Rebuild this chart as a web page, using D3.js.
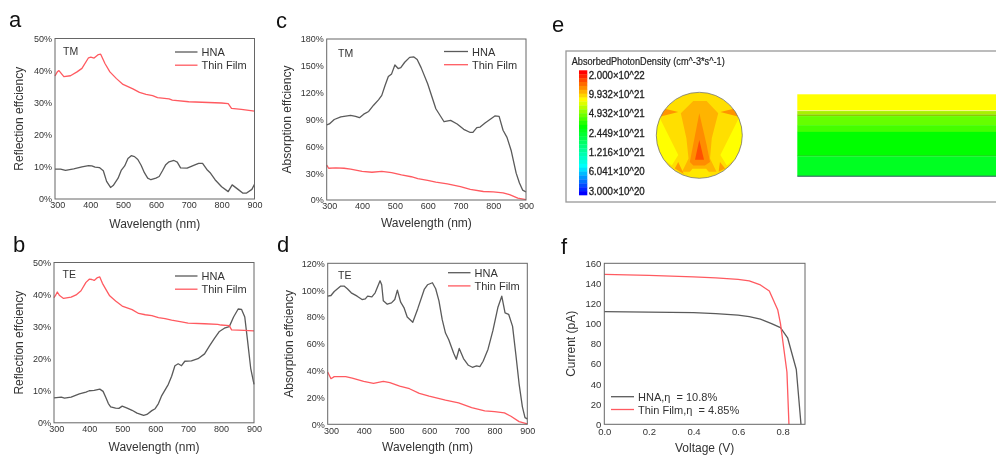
<!DOCTYPE html>
<html>
<head>
<meta charset="utf-8">
<script src="https://cdn.jsdelivr.net/npm/d3@7"></script>
<style>
  html, body { margin: 0; padding: 0; background: #fff; }
  svg { display: block; filter: blur(0.4px); }
  text { font-family: "Liberation Sans", Arial, sans-serif; fill: #333; white-space: pre; }
</style>
</head>
<body>
<div id="chart"></div>
<script>
// values, [x, y]
const aHna = [[293,9.3],[310,9.3],[325,8.9],[350,9.4],[375,10],[395,10.4],[405,10.3],[415,9.9],[428,9.8],[440,8.8],[450,5.5],[462,3.6],[470,4.2],[485,6.5],[495,9],[505,10.3],[515,12.6],[525,13.5],[535,13.2],[545,12.3],[555,10.5],[565,8.2],[575,6.5],[585,6],[600,6.5],[610,7],[620,8.8],[630,10.7],[640,11.6],[655,12],[665,11.5],[675,9.7],[695,9.6],[715,10.5],[730,11.1],[742,11.1],[755,9.2],[765,8.2],[780,6],[800,3.8],[820,2.3],[832,4.4],[850,3],[865,1.8],[875,1.8],[892,3],[900,4.6]];
const aThin = [[293,38.3],[300,39.6],[305,40],[320,38.1],[340,38.4],[360,39.6],[375,40.7],[395,44],[402,44.2],[412,43.9],[425,45],[432,45.1],[445,42.2],[460,39.6],[480,37.5],[500,35.7],[530,34.3],[550,33.2],[570,32.6],[590,32.2],[605,31.6],[640,31.2],[650,30.8],[700,30.3],[800,29.9],[820,29.7],[830,28.2],[860,27.9],[900,27.4]];
const bHna = [[293,7.8],[315,8],[325,7.7],[345,8],[370,9],[390,9.6],[400,10],[415,10.1],[432,10.5],[442,9.8],[450,8],[458,6],[465,5],[480,4.6],[490,4.5],[500,5.2],[515,4.6],[530,3.9],[545,3],[565,2.3],[575,2.6],[590,3.8],[600,4.4],[610,6],[620,8.5],[640,12],[650,14.5],[660,17.8],[670,18.4],[680,17.8],[690,19.2],[710,19.3],[730,20],[750,21.5],[765,24],[780,26.3],[795,28.5],[810,29.5],[825,30],[838,33],[852,35.5],[862,35.4],[872,33],[880,26],[890,17],[900,12]];
const bThin = [[293,39],[298,39.8],[303,40.8],[310,39.7],[322,38.8],[345,39.2],[360,39.9],[375,41.2],[390,43.8],[400,44.8],[408,44.7],[415,44.4],[425,45.3],[432,45.5],[440,43.5],[450,41.7],[462,39.6],[480,38],[500,36.4],[530,35.3],[550,34.1],[570,33.7],[590,33.4],[610,32.8],[630,32.5],[650,32],[680,31.5],[700,31.1],[750,30.9],[790,30.7],[800,30.5],[825,30.3],[832,29],[870,28.8],[900,28.7]];
const cHna = [[292,84],[300,85],[315,90],[335,93],[365,94.5],[380,93.5],[392,92],[405,96],[420,99],[435,106],[450,112],[460,117],[470,128],[480,138],[490,141],[500,151],[510,147],[518,148],[530,154],[545,159.5],[558,160],[568,157],[580,148],[600,130],[625,102],[650,87.5],[670,89],[690,85],[710,79],[730,75.5],[738,75.5],[750,81],[760,81.5],[775,86],[790,90],[805,94],[818,93.5],[830,78],[842,70],[855,55],[870,30],[880,19],[890,11],[900,9]];
const cThin = [[292,39],[298,35.5],[320,36],[345,35.5],[365,34.5],[400,32],[430,31],[460,32],[490,30.5],[520,28],[550,26],[570,24],[600,22],[625,20],[660,18],[700,15],[730,12],[770,9.5],[800,9],[830,8],[850,6],[875,2],[900,0.3]];
const dHna = [[290,95.5],[300,96],[310,99],[330,103],[340,103],[350,101],[362,98],[380,95.5],[395,93],[405,93.5],[412,95.5],[425,95],[435,98],[450,107],[455,104],[460,92],[472,89.5],[485,90.5],[495,93],[503,100],[513,91],[523,87],[533,80],[550,76],[565,86],[585,100.5],[595,104],[610,105.5],[620,101],[630,92],[640,78],[650,68],[660,63],[675,53],[683,48.5],[692,56.5],[705,49],[720,44],[732,42.5],[745,43.5],[755,43],[765,47],[780,56],[795,70],[810,87],[822,95.5],[832,83],[843,82],[855,73],[865,52],[875,30],[885,13],[893,5],[900,4]];
const dThin = [[290,39],[300,34],[310,35.5],[345,35.5],[365,34.5],[400,32],[430,30.5],[460,32],[480,31],[510,28.5],[540,26.5],[570,23],[600,21],[650,18],[690,16],[730,12.5],[770,10],[800,9.5],[830,8.5],[850,6],[875,2],[900,0.3]];
const fHna = [[0,112],[0.2,111.5],[0.4,111],[0.5,110],[0.6,108.5],[0.65,107],[0.7,104.5],[0.75,100],[0.79,96],[0.822,86],[0.861,54.5],[0.882,0]];
const fThin = [[0,149],[0.2,148],[0.4,146.5],[0.5,145.5],[0.6,144],[0.65,142.5],[0.7,138.5],[0.74,132.5],[0.778,113.5],[0.79,100],[0.819,52],[0.828,0]];

const wavelengthTicks = [300, 400, 500, 600, 700, 800, 900];
const voltageTicks = [0, 0.2, 0.4, 0.6, 0.8];
const reflectTicks = [0, 10, 20, 30, 40, 50];
const absorbTicksC = [0, 30, 60, 90, 120, 150, 180];
const absorbTicksD = [0, 20, 40, 60, 80, 100, 120];
const currentTicks = [0, 20, 40, 60, 80, 100, 120, 140, 160];

const colorbarLabels = ["2.000×10^22", "9.932×10^21", "4.932×10^21", "2.449×10^21", "1.216×10^21", "6.041×10^20", "3.000×10^20"];

const HNA_COLOR = "#5a5a5a", THIN_COLOR = "#ff5a60", FRAME = "#666";

const svg = d3.select("#chart").append("svg").attr("width", 996).attr("height", 455);

const percent = d => d + "%";

function drawPanel(p) {
  const x = d3.scaleLinear().domain(p.xDomain).range([p.left, p.right]);
  const y = d3.scaleLinear().domain(p.yDomain).range([p.bottom, p.top]);
  const g = svg.append("g");

  const xAxis = d3.axisBottom(x).tickValues(p.xTicks).tickFormat(p.xFormat).tickSize(0).tickPadding(p.xPad || 3);
  const yAxis = d3.axisLeft(y).tickValues(p.yTicks).tickFormat(p.yFormat).tickSize(0).tickPadding(3);
  g.append("g").attr("transform", "translate(0," + p.bottom + ")").call(xAxis)
    .call(s => s.select(".domain").remove());
  g.append("g").attr("transform", "translate(" + p.left + ",0)").call(yAxis)
    .call(s => s.select(".domain").remove());
  g.selectAll(".tick text").style("font-family", '"Liberation Sans", Arial, sans-serif')
    .style("font-size", p.tickSize + "px").style("fill", "#333");

  const line = d3.line().x(d => x(d[0])).y(d => y(d[1]));
  p.series.forEach(s => {
    g.append("path").datum(s.values).attr("d", line)
      .attr("fill", "none").attr("stroke", s.color).attr("stroke-width", 1.3)
      .attr("stroke-linejoin", "round");
  });

  g.append("rect").attr("x", p.left).attr("y", p.top)
    .attr("width", p.right - p.left).attr("height", p.bottom - p.top)
    .attr("fill", "none").attr("stroke", FRAME).attr("stroke-width", 1);

  // legend
  p.series.forEach((s, i) => {
    const ly = p.legend.y + i * p.legend.step;
    g.append("line").attr("x1", p.legend.x1).attr("x2", p.legend.x2).attr("y1", ly).attr("y2", ly)
      .attr("stroke", s.color).attr("stroke-width", 1.3);
    g.append("text").attr("x", p.legend.x2 + 4).attr("y", ly + 4)
      .attr("font-size", 11).text(s.name);
  });

  if (p.mode) {
    g.append("text").attr("x", p.mode.x).attr("y", p.mode.y).attr("font-size", 10.5).text(p.mode.text);
  }

  g.append("text").attr("x", (p.left + p.right) / 2).attr("y", p.xTitleY)
    .attr("text-anchor", "middle").attr("font-size", 12).text(p.xTitle);
  g.append("text").attr("transform", "translate(" + p.yTitleX + "," + (p.top + p.bottom) / 2 + ") rotate(-90)")
    .attr("text-anchor", "middle").attr("font-size", 12).text(p.yTitle);

  svg.append("text").attr("x", p.letter.x).attr("y", p.letter.y)
    .attr("font-size", 22).style("fill", "#111").text(p.letter.text);
}

const wlTitle = "Wavelength (nm)";

drawPanel({
  left: 55, right: 254.5, top: 38.5, bottom: 199,
  xDomain: [293, 900], yDomain: [0, 50], xTicks: wavelengthTicks, yTicks: reflectTicks,
  xFormat: d3.format("d"), yFormat: percent, tickSize: 9,
  series: [{ name: "HNA", color: HNA_COLOR, values: aHna }, { name: "Thin Film", color: THIN_COLOR, values: aThin }],
  legend: { x1: 175, x2: 197.5, y: 52, step: 13.2 },
  mode: { x: 63, y: 55, text: "TM" },
  xTitle: wlTitle, xTitleY: 228, yTitle: "Reflection effciency", yTitleX: 23,
  letter: { x: 9, y: 27, text: "a" }
});
drawPanel({
  left: 54, right: 254, top: 262.5, bottom: 422.8,
  xDomain: [293, 900], yDomain: [0, 50], xTicks: wavelengthTicks, yTicks: reflectTicks,
  xFormat: d3.format("d"), yFormat: percent, tickSize: 9,
  series: [{ name: "HNA", color: HNA_COLOR, values: bHna }, { name: "Thin Film", color: THIN_COLOR, values: bThin }],
  legend: { x1: 175, x2: 197.5, y: 276, step: 13.2 },
  mode: { x: 62.5, y: 278, text: "TE" },
  xTitle: wlTitle, xTitleY: 451, yTitle: "Reflection effciency", yTitleX: 23,
  letter: { x: 13, y: 252, text: "b" }
});
drawPanel({
  left: 326.7, right: 526, top: 39, bottom: 200,
  xDomain: [292, 900], yDomain: [0, 180], xTicks: wavelengthTicks, yTicks: absorbTicksC,
  xFormat: d3.format("d"), yFormat: percent, tickSize: 9,
  series: [{ name: "HNA", color: HNA_COLOR, values: cHna }, { name: "Thin Film", color: THIN_COLOR, values: cThin }],
  legend: { x1: 444, x2: 468, y: 51.5, step: 13.2 },
  mode: { x: 338, y: 57, text: "TM" },
  xTitle: wlTitle, xTitleY: 227, yTitle: "Absorption effciency", yTitleX: 291,
  letter: { x: 276, y: 28, text: "c" }
});
drawPanel({
  left: 327.7, right: 527.3, top: 263.3, bottom: 424.3,
  xDomain: [290, 900], yDomain: [0, 120], xTicks: wavelengthTicks, yTicks: absorbTicksD,
  xFormat: d3.format("d"), yFormat: percent, tickSize: 9,
  series: [{ name: "HNA", color: HNA_COLOR, values: dHna }, { name: "Thin Film", color: THIN_COLOR, values: dThin }],
  legend: { x1: 448, x2: 470.5, y: 272.7, step: 13.2 },
  mode: { x: 338, y: 279, text: "TE" },
  xTitle: wlTitle, xTitleY: 451, yTitle: "Absorption effciency", yTitleX: 293,
  letter: { x: 277, y: 252, text: "d" }
});
drawPanel({
  left: 604.3, right: 805, top: 263.3, bottom: 424.3,
  xDomain: [0, 0.9], yDomain: [0, 160], xTicks: voltageTicks, yTicks: currentTicks,
  xFormat: d3.format(".1f"), yFormat: d3.format("d"), tickSize: 9.5, xPad: 4,
  series: [{ name: "HNA,η  = 10.8%", color: HNA_COLOR, values: fHna }, { name: "Thin Film,η  = 4.85%", color: THIN_COLOR, values: fThin }],
  legend: { x1: 611, x2: 634, y: 396.7, step: 12.8 },
  xTitle: "Voltage (V)", xTitleY: 451.5, yTitle: "Current (pA)", yTitleX: 575,
  letter: { x: 561, y: 254, text: "f" }
});

// panel e: simulation snapshot
svg.append("text").attr("x", 552).attr("y", 32).attr("font-size", 22).style("fill", "#111").text("e");

svg.append("rect").attr("x", 566).attr("y", 51).attr("width", 440).attr("height", 151)
  .attr("fill", "#fff").attr("stroke", "#999").attr("stroke-width", 1.3);

svg.append("text").attr("x", 571.7).attr("y", 65).attr("font-size", 10.5)
  .attr("textLength", 153).attr("lengthAdjust", "spacingAndGlyphs").style("fill", "#222")
  .style("stroke", "#222").style("stroke-width", 0.2).text("AbsorbedPhotonDensity (cm^-3*s^-1)");

// colour bar, top to bottom
const barStops = [0, 0.14, 0.23, 0.45, 0.78, 1];
const barColors = ["#ff0000", "#ff9900", "#ffff00", "#00ff00", "#00ffff", "#0000ff"];
const barBands = d3.range(32);
const barColor = d3.scaleLinear().domain(barStops).range(barColors);
const barY = d3.scaleBand().domain(barBands).range([70.3, 195]);
svg.append("g").selectAll("rect").data(barBands).enter().append("rect")
  .attr("x", 579).attr("width", 8.3).attr("y", d => barY(d)).attr("height", barY.bandwidth() + 0.3)
  .attr("fill", d => barColor(d / (barBands.length - 1)));
const barLabelY = d3.scalePoint().domain(colorbarLabels).range([78.8, 194.5]);
svg.append("g").selectAll("text").data(colorbarLabels).enter().append("text")
  .attr("x", 588.7).attr("y", d => barLabelY(d)).attr("font-size", 10)
  .attr("textLength", 56).attr("lengthAdjust", "spacingAndGlyphs")
  .style("stroke", "#222").style("stroke-width", 0.3).style("fill", "#222").text(d => d);

// circular cross section, shapes in units of the radius
const circleU = d3.scaleLinear().domain([-1, 1]).range([656.3, 742.3]);
const circleV = d3.scaleLinear().domain([-1, 1]).range([92.3, 178.3]);
const sideYellowL = [[-1.05,0],[-0.92,-0.4],[-0.49,0.46],[-0.64,0.7],[-0.84,0.55]];
const sideYellowR = [[1.05,0],[0.92,-0.4],[0.49,0.46],[0.64,0.7],[0.84,0.55]];
const bottomYellow = [[-0.3,0.95],[-0.16,0.78],[0.16,0.78],[0.3,0.95],[0,1.1]];
const coreOuter = [[-0.14,-0.8],[0.17,-0.8],[0.44,-0.51],[0.29,0.07],[0.25,0.54],[0.4,0.85],[-0.4,0.85],[-0.25,0.54],[-0.3,0.07],[-0.43,-0.51]];
const coreMid = [[0,-0.51],[0.17,0.22],[0.25,0.62],[0.13,0.7],[-0.14,0.7],[-0.22,0.62]];
const coreHot = [[0,0.11],[0.11,0.57],[-0.1,0.57]];
const wedgeL = [[-0.92,-0.43],[-0.8,-0.62],[-0.49,-0.54]];
const wedgeR = [[0.92,-0.43],[0.8,-0.62],[0.49,-0.54]];
const footL = [[-0.57,0.77],[-0.49,0.62],[-0.36,0.9]];
const footR = [[0.45,0.85],[0.48,0.62],[0.6,0.77]];
const circleShapes = [
  { pts: sideYellowL, fill: "#ffff00" }, { pts: sideYellowR, fill: "#ffff00" },
  { pts: coreOuter, fill: "#ffb400" }, { pts: bottomYellow, fill: "#ffe800" },
  { pts: coreMid, fill: "#ff8c00" }, { pts: coreHot, fill: "#ff5000" },
  { pts: wedgeL, fill: "#ff9400" }, { pts: wedgeR, fill: "#ff9400" },
  { pts: footL, fill: "#ff9c00" }, { pts: footR, fill: "#ff9c00" }
];
svg.append("clipPath").attr("id", "disc").append("circle")
  .attr("cx", circleU(0)).attr("cy", circleV(0)).attr("r", circleU(1) - circleU(0));
const disc = svg.append("g").attr("clip-path", "url(#disc)");
disc.append("rect").attr("x", circleU(-1)).attr("y", circleV(-1))
  .attr("width", circleU(1) - circleU(-1)).attr("height", circleV(1) - circleV(-1)).attr("fill", "#ffdf00");
const polyLine = d3.line().x(d => circleU(d[0])).y(d => circleV(d[1]));
disc.selectAll("path").data(circleShapes).enter().append("path")
  .attr("d", d => polyLine(d.pts) + "Z").attr("fill", d => d.fill);
svg.append("circle").attr("cx", circleU(0)).attr("cy", circleV(0)).attr("r", circleU(1) - circleU(0))
  .attr("fill", "none").attr("stroke", "#777").attr("stroke-width", 0.8);

// film cross section, bands as fractions of the depth
const filmDepth = [0, 0.196, 0.204, 0.245, 0.265, 0.375, 0.457, 0.74, 0.755, 0.99];
const filmColors = ["#ffff00", "#f4f4a0", "#a8f000", "#88cc00", "#66ff00", "#44ff00", "#00ff00", "#00dd00", "#00ff22", "#0a5a40"];
const filmY = d3.scaleLinear().domain([0, 1]).range([94.3, 176.5]);
svg.append("g").selectAll("rect").data(filmDepth).enter().append("rect")
  .attr("x", 797.3).attr("width", 198.7)
  .attr("y", d => filmY(d))
  .attr("height", (d, i) => filmY(i + 1 < filmDepth.length ? filmDepth[i + 1] : 1) - filmY(d) + 0.2)
  .attr("fill", (d, i) => filmColors[i]);
</script>
</body>
</html>
